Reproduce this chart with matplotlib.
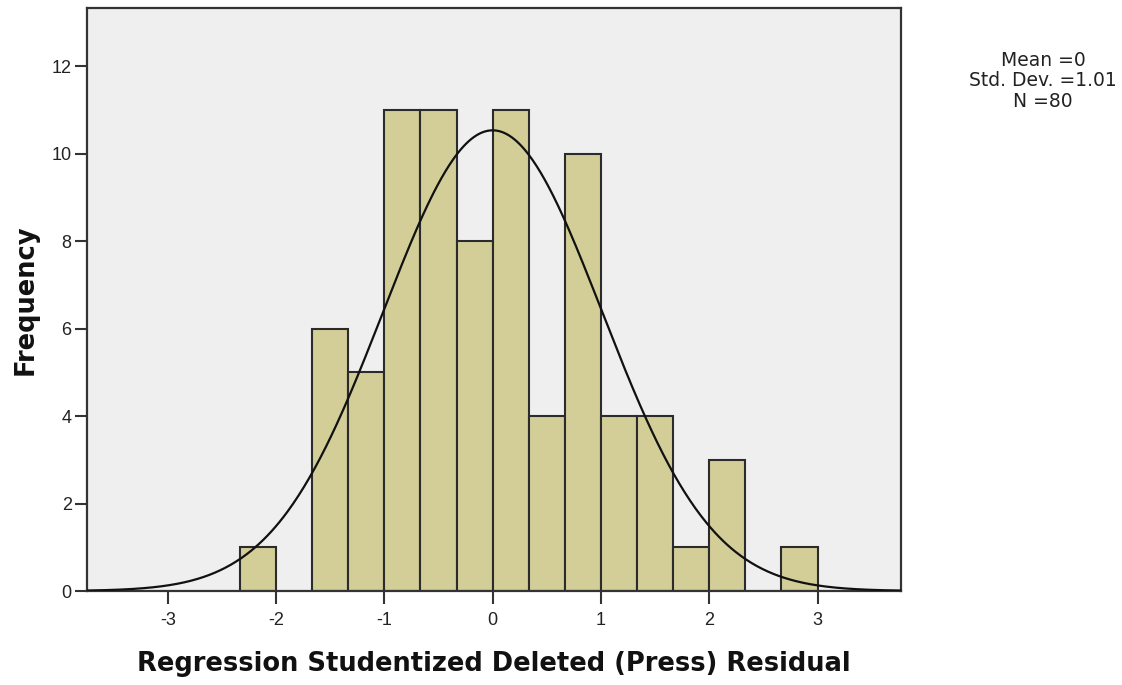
import numpy as np
import matplotlib
matplotlib.use("Agg")
import matplotlib.pyplot as plt

plt.rcParams['font.family'] = ['Liberation Sans', 'DejaVu Sans']

# Histogram bins (width 1/3) and their frequencies
bin_edges = np.arange(-7, 10) / 3.0          # -2.333 ... 3.0
counts = [1, 0, 6, 5, 11, 11, 8, 11, 4, 10, 4, 4, 1, 3, 0, 1]

mean_val = 0.0
std_val = 1.01
n_obs = 80
x_ticks = [-3, -2, -1, 0, 1, 2, 3]
y_ticks = [0, 2, 4, 6, 8, 10, 12]

fig = plt.figure(figsize=(11.22, 6.85), dpi=100)
ax = fig.add_axes([87 / 1122, 1 - 591 / 685, (901 - 87) / 1122, (591 - 8) / 685])
ax.set_facecolor('#efefef')

lefts = bin_edges[:-1]
widths = np.diff(bin_edges)
for l, w, c in zip(lefts, widths, counts):
    if c > 0:
        ax.bar(l, c, width=w, align='edge', color='#d3ce98',
               edgecolor='#2b2b2b', linewidth=1.5, zorder=2)

# Normal curve scaled to the histogram
bw = widths[0]
xs = np.linspace(-3.75, 3.77, 600)
ys = n_obs * bw * np.exp(-0.5 * ((xs - mean_val) / std_val) ** 2) / (std_val * np.sqrt(2 * np.pi))
ax.plot(xs, ys, color='#111111', linewidth=1.6, zorder=3)

ax.set_xlim(-3.745, 3.77)
ax.set_ylim(0, 13.33)
ax.set_xticks(x_ticks)
ax.set_yticks(y_ticks)
ax.set_xticklabels([str(t) for t in x_ticks])
ax.set_yticklabels([str(t) for t in y_ticks])
ax.tick_params(axis='both', direction='out', length=9, width=1.5,
               color='#333333', labelsize=13, labelcolor='#222222')
ax.tick_params(axis='x', pad=6)
ax.tick_params(axis='y', pad=2)

for side in ['left', 'bottom', 'top', 'right']:
    ax.spines[side].set_color('#333333')
    ax.spines[side].set_linewidth(1.6)

label_font = dict(family='DejaVu Sans', fontsize=18.5, fontweight='bold', color='#111111')
ax.set_xlabel('Regression Studentized Deleted (Press) Residual', labelpad=16, **label_font)
ax.set_ylabel('Frequency', labelpad=9, **label_font)

fig.text(1043 / 1122, 1 - 81 / 685,
         'Mean =0\nStd. Dev. =1.01\nN =80',
         ha='center', va='center', family='DejaVu Sans', fontsize=13.5,
         color='#222222', linespacing=1.1)

fig.savefig('out.png', dpi=100)
